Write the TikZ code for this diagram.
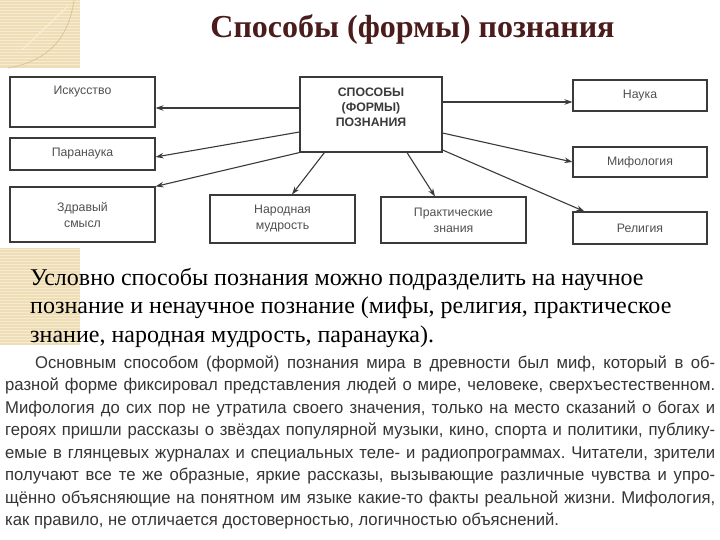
\documentclass[tikz,border=0pt]{standalone}
\usepackage{fontspec}
\setmainfont{Liberation Serif}
\newfontfamily\diagfont{Liberation Sans}
\newfontfamily\narrowfont[FakeStretch=0.98]{Liberation Sans}
\usetikzlibrary{arrows.meta}
\frenchspacing
\definecolor{titlebrown}{HTML}{4A1C1C}
\definecolor{boxline}{HTML}{3A3A3A}
\definecolor{diagtext}{HTML}{505050}
\definecolor{beige}{HTML}{EEDDB5}
\definecolor{beigelight}{HTML}{F6ECD2}
\definecolor{beigedark}{HTML}{DCC698}
\definecolor{bodytext}{HTML}{353535}
\tikzset{
  box/.style={draw=boxline, line width=1.1pt, inner sep=0pt, align=center,
    font=\diagfont\fontsize{12.3}{16}\selectfont, text=diagtext},
  boxl/.style={box, minimum width=145pt},
  boxr/.style={box, minimum width=134pt},
  arr/.style={draw=boxline, line width=1.1pt, -{Stealth[length=8pt,width=5.5pt]}},
  bodyline/.style={anchor=base west, inner sep=0pt, text=bodytext,
    font=\narrowfont\fontsize{17}{20}\selectfont},
  upline/.style={anchor=base west, inner sep=0pt, text=black,
    font=\fontsize{24}{28}\selectfont},
  stripe/.style={draw=beigelight, line width=1pt}
}
\begin{document}
\begin{tikzpicture}[x=1pt,y=-1pt]
\useasboundingbox (0,0) rectangle (720,540);
\fill[white] (0,0) rectangle (720,540);
% decoration
\fill[beige] (0,0) rectangle (80,68);
\foreach \yy in {1.5,4.5,...,67} \draw[stripe] (0,\yy) -- (80,\yy);
\draw[beigedark, line width=0.8pt] (8,68) .. controls (55,60) and (70,30) .. (74,0);
\draw[beigelight, line width=1.5pt] (22,50) -- (68,6);
\fill[beige] (0,248) rectangle (80,345);
\foreach \yy in {249.5,252.5,...,345} \draw[stripe] (0,\yy) -- (80,\yy);
% title
\node[font=\bfseries\fontsize{32}{36}\selectfont, text=titlebrown, inner sep=0pt] (title) at (412.5,29) {Способы (формы) познания};
% boxes
\node[boxl, minimum height=50pt,
  label={[anchor=north, inner sep=0pt, yshift=-9pt, font=\diagfont\fontsize{12.3}{16}\selectfont, text=diagtext]north:Искусство}] (isk) at (82.5,102) {};
\node[boxl, minimum height=32pt] (par) at (82.5,154) {Паранаука};
\node[boxl, minimum height=55pt] (zdr) at (82.5,214.5) {Здравый\\смысл};
\node[boxl, minimum height=48pt] (nar) at (282.5,219) {Народная\\мудрость};
\node[boxl, minimum height=46pt] (prak) at (453.5,220) {Практические\\знания};
\node[box, minimum width=142pt, minimum height=75pt] (c) at (371,114.5) {};
\node[font=\diagfont\bfseries\fontsize{12.3}{15}\selectfont, text=boxline, align=center, inner sep=0pt] (ct) at (371,107) {СПОСОБЫ\\(ФОРМЫ)\\ПОЗНАНИЯ};
\node[boxr, minimum height=31pt] (nauka) at (640,95.5) {Наука};
\node[boxr, minimum height=30pt] (mif) at (640,162) {Мифология};
\node[boxr, minimum height=32pt] (rel) at (640,228) {Религия};
% arrows
\draw[arr] ([yshift=6.5pt]c.west) -- ([yshift=-6pt]isk.east);
\draw[arr] ([yshift=-17.5pt]c.west) -- ([yshift=-3pt]par.east);
\draw[arr] (c.south west) -- (zdr.north east);
\draw[arr] ([xshift=25pt]c.south west) -- ([xshift=9.5pt]nar.north);
\draw[arr] ([xshift=36pt]c.south) -- ([xshift=-18.5pt]prak.north);
\draw[arr] ([yshift=12.5pt]c.east) -- ([yshift=-6.5pt]nauka.west);
\draw[arr] ([yshift=-18.5pt]c.east) -- (mif.west);
\draw[arr] ([yshift=-35.5pt]c.east) -- ([xshift=12pt]rel.north west);
% upper paragraph
\node[upline] (u1) at (30,285) {Условно способы познания можно подразделить на научное};
\node[upline] (u2) at (30,313.5) {познание и ненаучное познание (мифы, религия, практическое};
\node[upline] (u3) at (30,342) {знание, народная мудрость, паранаука).};
% lower paragraph
\node[bodyline] (b1) at (35,368) {\makebox[680pt][s]{Основным способом (формой) познания мира в древности был миф, который в об-}};
\node[bodyline] (b2) at (5,390.5) {\makebox[710pt][s]{разной форме фиксировал представления людей о мире, человеке, сверхъестественном.}};
\node[bodyline] (b3) at (5,413) {\makebox[710pt][s]{Мифология до сих пор не утратила своего значения, только на место сказаний о богах и}};
\node[bodyline] (b4) at (5,435.5) {\makebox[710pt][s]{героях пришли рассказы о звёздах популярной музыки, кино, спорта и политики, публику-}};
\node[bodyline] (b5) at (5,458) {\makebox[710pt][s]{емые в глянцевых журналах и специальных теле- и радиопрограммах. Читатели, зрители}};
\node[bodyline] (b6) at (5,480.5) {\makebox[710pt][s]{получают все те же образные, яркие рассказы, вызывающие различные чувства и упро-}};
\node[bodyline] (b7) at (5,503) {\makebox[710pt][s]{щённо объясняющие на понятном им языке какие-то факты реальной жизни. Мифология,}};
\node[bodyline] (b8) at (5,525.5) {как правило, не отличается достоверностью, логичностью объяснений.};
\end{tikzpicture}
\end{document}
